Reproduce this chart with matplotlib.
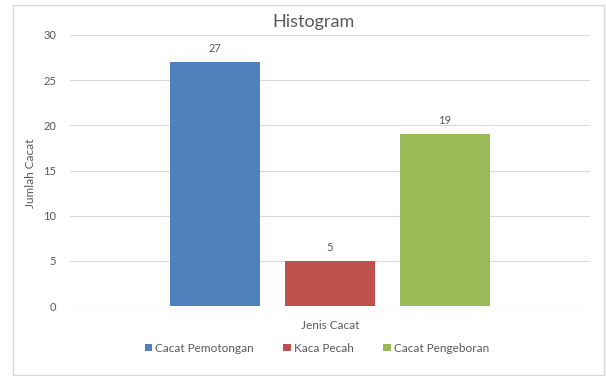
import matplotlib
matplotlib.use('Agg')
import matplotlib.pyplot as plt
from matplotlib.patches import Rectangle

plt.rcParams['font.family'] = ['Lato', 'DejaVu Sans']

series = ['Cacat Pemotongan', 'Kaca Pecah', 'Cacat Pengeboran']
values = [27, 5, 19]
colors = ['#4F81BD', '#C0504D', '#9BBB59']
yticks = [0, 5, 10, 15, 20, 25, 30]

text_col = '#595959'

fig = plt.figure(figsize=[6.06, 3.76], dpi=100)
ax = fig.add_axes([0.1155, 0.186, 0.858, 0.721])

# chart border
fig.patches.append(Rectangle((13 / 606, 1 / 376), 591 / 606, 370 / 376,
                             transform=fig.transFigure, fill=False,
                             edgecolor='#D9D9D9', linewidth=1))

pos = [-1, 0, 1]
ax.bar(pos, values, width=0.78, color=colors, label=series, zorder=3)
for p, v in zip(pos, values):
    ax.annotate(str(v), (p, v), xytext=(0, 6), textcoords='offset points',
                ha='center', va='bottom', fontsize=8, color=text_col)

ax.set_xlim(-2.26, 2.26)
ax.set_ylim(0, 30)
ax.set_yticks(yticks)
ax.set_xticks([])
ax.tick_params(axis='y', length=0, labelsize=8, labelcolor=text_col, pad=10)
ax.grid(axis='y', color='#D9D9D9', linewidth=0.8, zorder=0)
for s in ax.spines.values():
    s.set_visible(False)
ax.axhline(0, color='#D9D9D9', linewidth=0.8, zorder=1)

ax.set_ylabel('Jumlah Cacat', fontsize=8.5, color=text_col)
ax.yaxis.set_label_coords(-0.066, 0.49)
ax.set_xlabel('Jenis Cacat', fontsize=8.5, color=text_col, va='center')
ax.xaxis.set_label_coords(0.5, -0.070)
fig.text(313 / 606, 1 - 22 / 376, 'Histogram', ha='center', va='center', fontsize=13, color=text_col)

ax.legend(loc='center', bbox_to_anchor=(0.475, -0.155), ncol=3, frameon=False,
          fontsize=8.5, labelcolor=text_col, handlelength=0.6, handleheight=0.6,
          handletextpad=0.3, columnspacing=2.5)

plt.savefig('out.png')
plt.close(fig)
